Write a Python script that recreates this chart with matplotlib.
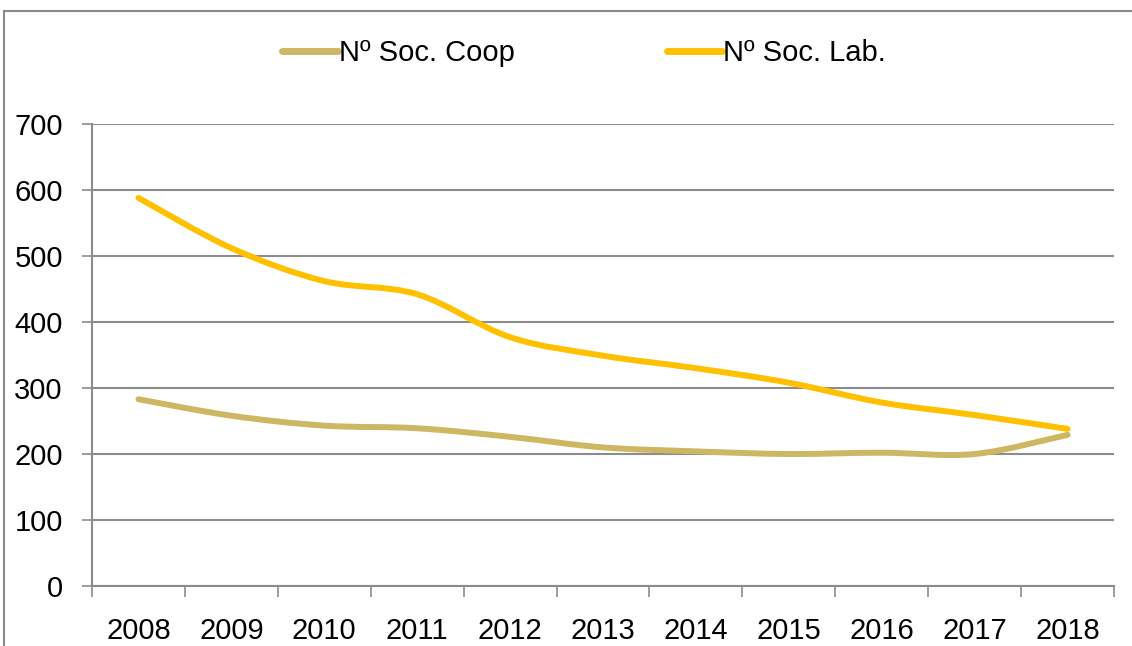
import numpy as np
import matplotlib
matplotlib.use('Agg')
import matplotlib.pyplot as plt
from matplotlib.path import Path
from matplotlib.patches import PathPatch
from matplotlib.lines import Line2D

years = ['2008', '2009', '2010', '2011', '2012', '2013', '2014', '2015', '2016', '2017', '2018']
soc_coop = [283, 258, 243, 239, 226, 210, 204, 200, 202, 200, 229]
soc_lab = [588, 512, 462, 442, 377, 349, 330, 308, 278, 259, 238]

plt.rcParams['font.family'] = ['Liberation Sans Narrow', 'Liberation Sans', 'DejaVu Sans']


def smooth_path(xs, ys):
    # excel-like smoothed line: catmull-rom turned into cubic beziers
    pts = np.column_stack([xs, ys]).astype(float)
    n = len(pts)
    verts = [pts[0]]
    codes = [Path.MOVETO]
    for i in range(n - 1):
        p0 = pts[i - 1] if i > 0 else pts[i]
        p1 = pts[i]
        p2 = pts[i + 1]
        p3 = pts[i + 2] if i + 2 < n else pts[i + 1]
        c1 = p1 + (p2 - p0) / 6
        c2 = p2 - (p3 - p1) / 6
        verts += [c1, c2, p2]
        codes += [Path.CURVE4] * 3
    return Path(verts, codes)


fig = plt.figure(figsize=(11.32, 6.46), dpi=100)
ax = fig.add_axes([92 / 1132, 60 / 646, 1022 / 1132, 462 / 646])

x = np.arange(len(years))
series = [(soc_coop, '#CDB762', 'Nº Soc. Coop'), (soc_lab, '#FFC000', 'Nº Soc. Lab.')]
handles = []
for vals, color, name in series:
    ax.add_patch(PathPatch(smooth_path(x, vals), facecolor='none', edgecolor=color,
                           lw=4.3, capstyle='round', zorder=3))
    handles.append(Line2D([], [], color=color, lw=5, solid_capstyle='round', label=name))

ax.set_xlim(-0.5, len(years) - 0.5)
ax.set_ylim(0, 700)
ax.set_yticks(range(0, 701, 100))
ax.yaxis.grid(True, color='#8c8c8c', lw=1.5)
ax.set_axisbelow(True)

ax.set_xticks(np.arange(-0.5, len(years), 1))
ax.set_xticklabels([])
ax.set_xticks(x, minor=True)
ax.set_xticklabels(years, minor=True)
ax.tick_params(axis='x', which='major', length=8, width=1.2, color='#8c8c8c', direction='out')
ax.tick_params(axis='x', which='minor', length=0, pad=22, labelsize=21)
ax.tick_params(axis='y', length=7, width=1.2, color='#8c8c8c', pad=14, labelsize=21)

for side in ['top', 'right']:
    ax.spines[side].set_visible(False)
for side in ['left', 'bottom']:
    ax.spines[side].set_color('#8c8c8c')
    ax.spines[side].set_linewidth(1.5)

fig.legend(handles=handles, loc='center', bbox_to_anchor=(0.516, 0.918), ncol=2, frameon=False,
           fontsize=21, handlelength=1.9, handletextpad=0.05, columnspacing=5.2)

# chart area border (cut at right and bottom)
fig.add_artist(Line2D([4 / 1132, 4 / 1132], [0, 1 - 11 / 646], color='#8c8c8c', lw=1.5))
fig.add_artist(Line2D([4 / 1132, 1], [1 - 11 / 646, 1 - 11 / 646], color='#8c8c8c', lw=1.5))

fig.savefig('out.png', dpi=100)
